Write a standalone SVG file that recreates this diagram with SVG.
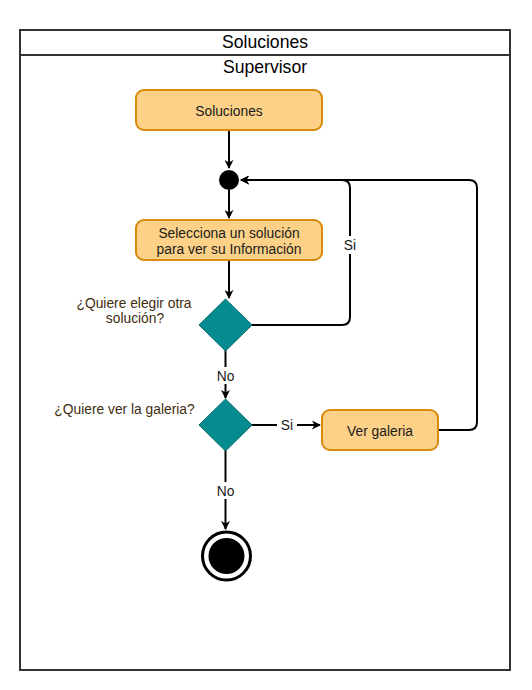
<svg xmlns="http://www.w3.org/2000/svg" width="532" height="690" viewBox="0 0 532 690">
<defs>
<style>
.frame{fill:none;stroke:#333;stroke-width:2}
.act{fill:#fdd288;stroke:#d9890b;stroke-width:2}
.dec{fill:#048c90;stroke:#0d6d70;stroke-width:1}
.edge{fill:none;stroke:#000;stroke-width:2}
.t{font-family:"Liberation Sans",Arial,sans-serif;font-size:13.8px;fill:#1a1a1a;text-anchor:middle}
.q{font-family:"Liberation Sans",Arial,sans-serif;font-size:13.8px;fill:#3f2d0f;text-anchor:middle}
.lbl{font-family:"Liberation Sans",Arial,sans-serif;font-size:13.8px;fill:#1a1a1a;text-anchor:middle}
.title{font-family:"Liberation Sans",Arial,sans-serif;font-size:17.6px;fill:#000;text-anchor:middle}
</style>
<marker id="arr" viewBox="0 0 10 10" refX="9" refY="5" markerWidth="4.5" markerHeight="4.5" markerUnits="strokeWidth" orient="auto">
<path d="M0,0 L10,5 L0,10 L3,5 Z" fill="#000"/>
</marker>
</defs>
<rect width="532" height="690" fill="#fff"/>
<g id="pool">
<rect class="frame" x="20" y="30" width="490" height="640"/>
<line class="frame" x1="20" y1="55" x2="510" y2="55"/>
<text class="title" x="265" y="48">Soluciones</text>
<text class="title" x="265" y="73">Supervisor</text>
</g>
<g id="connectors">
<line class="edge" x1="229" y1="130" x2="229" y2="168" marker-end="url(#arr)"/>
<line class="edge" x1="229" y1="190" x2="229" y2="218" marker-end="url(#arr)"/>
<line class="edge" x1="229" y1="260" x2="229" y2="298" marker-end="url(#arr)"/>
<path class="edge" d="M252,325 L342,325 Q350,325 350,317 L350,188 Q350,180 342,180 L241,180" marker-end="url(#arr)"/>
<rect x="341" y="236" width="18" height="18" fill="#fff"/>
<text class="lbl" x="350" y="250">Si</text>
<line class="edge" x1="225.5" y1="350" x2="225.5" y2="398" marker-end="url(#arr)"/>
<rect x="214" y="367" width="23" height="17" fill="#fff"/>
<text class="lbl" x="225.5" y="381">No</text>
<line class="edge" x1="252" y1="425" x2="320" y2="425" marker-end="url(#arr)"/>
<rect x="277" y="417" width="20" height="17" fill="#fff"/>
<text class="lbl" x="287" y="430">Si</text>
<path class="edge" d="M438,430 L469,430 Q477,430 477,422 L477,188 Q477,180 469,180 L241,180" marker-end="url(#arr)"/>
<line class="edge" x1="225.5" y1="450" x2="225.5" y2="529" marker-end="url(#arr)"/>
<rect x="214" y="482" width="23" height="17" fill="#fff"/>
<text class="lbl" x="225.5" y="496">No</text>
</g>
<g id="n-soluciones">
<rect class="act" x="136" y="90" width="186" height="40" rx="8"/>
<text class="t" x="229" y="116">Soluciones</text>
</g>
<g id="n-merge">
<circle cx="229" cy="180" r="10" fill="#000"/>
</g>
<g id="n-selecciona">
<rect class="act" x="136" y="220" width="186" height="40" rx="8"/>
<text class="t" x="229" y="238">Selecciona un solución</text>
<text class="t" x="229" y="254">para ver su Información</text>
</g>
<g id="n-dec1">
<polygon class="dec" points="225.5,299 252,325 225.5,351 199,325"/>
<text class="q" x="134" y="308">¿Quiere elegir otra</text>
<text class="q" x="135" y="323">solución?</text>
</g>
<g id="n-dec2">
<polygon class="dec" points="225.5,399 252,425 225.5,451 199,425"/>
<text class="q" x="124.5" y="414">¿Quiere ver la galeria?</text>
</g>
<g id="n-galeria">
<rect class="act" x="322" y="410" width="116" height="40" rx="8"/>
<text class="t" x="380" y="436">Ver galeria</text>
</g>
<g id="n-end">
<circle cx="226.5" cy="556" r="24" fill="#fff" stroke="#000" stroke-width="3"/>
<circle cx="226.5" cy="556" r="18" fill="#000"/>
</g>
</svg>
